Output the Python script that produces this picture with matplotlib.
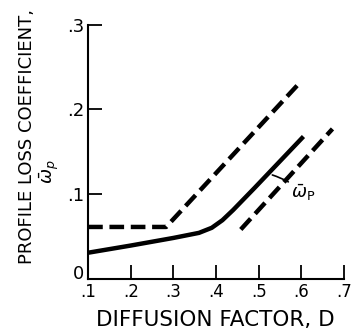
import matplotlib.pyplot as plt

# solid curve: profile loss coefficient vs diffusion factor
D_solid = [0.10, 0.20, 0.30, 0.36, 0.39, 0.415, 0.44, 0.49, 0.605]
w_solid = [0.0305, 0.039, 0.048, 0.054, 0.060, 0.069, 0.081, 0.107, 0.168]

# dashed scatter band limits
D_upper = [0.10, 0.283, 0.597]
w_upper = [0.061, 0.061, 0.232]
D_lower = [0.458, 0.673]
w_lower = [0.058, 0.177]

xticks = [0.1, 0.2, 0.3, 0.4, 0.5, 0.6, 0.7]
xticklabels = ['.1', '.2', '.3', '.4', '.5', '.6', '.7']
yticks = [0.0, 0.1, 0.2, 0.3]
yticklabels = ['0', '.1', '.2', '.3']

plt.rcParams['font.family'] = 'DejaVu Sans'

fig = plt.figure(figsize=(3.51, 3.31), dpi=100)
ax = fig.add_axes([0.251, 0.1586, 0.729, 0.766])

ax.plot(D_solid, w_solid, c='k', lw=3.2, solid_capstyle='butt', solid_joinstyle='round')
ax.plot(D_upper, w_upper, c='k', lw=3.2, dashes=(3.3, 1.5))
ax.plot(D_lower, w_lower, c='k', lw=3.2, dashes=(3.3, 1.5))

ax.annotate(r'$\bar{\omega}_\mathrm{P}$', xy=(0.532, 0.1225), xytext=(0.576, 0.102),
            fontsize=13, va='center', ha='left',
            arrowprops=dict(arrowstyle='-', lw=1.2, shrinkA=0, shrinkB=0,
                            connectionstyle='arc3,rad=0.1'))

ax.set_xlim(0.1, 0.7)
ax.set_ylim(0, 0.3)
ax.set_xticks(xticks)
ax.set_xticklabels(xticklabels, fontsize=12)
ax.set_yticks(yticks)
ax.set_yticklabels(yticklabels, fontsize=13)
ax.get_yticklabels()[0].set_va('baseline')
ax.tick_params(direction='in', length=10, width=1.3, pad=3)

for s in ['top', 'right']:
    ax.spines[s].set_visible(False)
for s in ['left', 'bottom']:
    ax.spines[s].set_linewidth(1.5)

ax.set_xlabel('DIFFUSION FACTOR, D', fontsize=15.5)
ax.xaxis.set_label_coords(0.496, -0.125)

fig.text(27 / 351, 1 - 137 / 331, 'PROFILE LOSS COEFFICIENT,', rotation=90,
         fontsize=13, ha='center', va='center')
fig.text(49 / 351, 1 - 172 / 331, r'$\bar{\omega}_p$', rotation=90,
         fontsize=13, ha='center', va='center')

plt.savefig('out.png', dpi=100)
